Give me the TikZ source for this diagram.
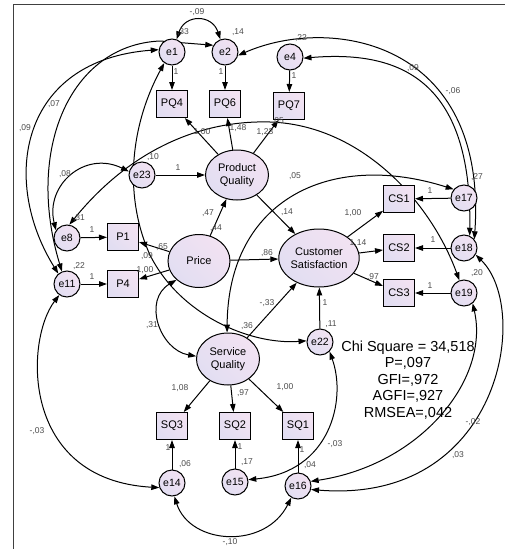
\documentclass[tikz,border=0pt]{standalone}
\usepackage{fontspec}
\setmainfont{Liberation Sans}
\usetikzlibrary{arrows.meta,shapes.geometric}
\definecolor{lavA}{RGB}{226,222,242}
\definecolor{lavB}{RGB}{242,226,242}
\definecolor{lbl}{RGB}{75,75,75}
\pgfdeclarelayer{bg}
\pgfsetlayers{bg,main}

\begin{document}
\begin{tikzpicture}[x=1pt,y=-1pt,
  every node/.style={inner sep=0pt},
  shade lav/.style={shade,shading=axis,left color=lavA,right color=lavB,shading angle=135},
  err/.style={circle,draw,line width=1pt,shade lav,minimum size=26pt,
    font=\fontsize{10.5}{12}\selectfont},
  obs/.style={rectangle,draw,line width=1pt,shade lav,minimum width=31pt,
    minimum height=27pt,font=\fontsize{11}{13}\selectfont},
  lat/.style={ellipse,draw,line width=1pt,shade lav,align=center,
    font=\fontsize{11}{12.5}\selectfont},
  tip/.tip={Triangle[length=8pt,width=5.5pt]},
  reg/.style={line width=1pt,-tip},
  cov/.style={line width=1pt,tip-tip},
  est/.style={font=\fontsize{8.5}{10}\selectfont,text=lbl},
]
\useasboundingbox (0,0) rectangle (505,549);
\draw[line width=1.2pt,black!75] (13.5,549) -- (13.5,4.5) -- (505,4.5);

% latent variables
\node[lat,minimum width=63pt,minimum height=50pt] (PQ) at (237,175) {Product\\Quality};
\node[lat,minimum width=62pt,minimum height=53pt] (Price) at (199,261) {Price};
\node[lat,minimum width=61pt,minimum height=58pt] (CS) at (319,258) {Customer\\Satisfaction};
\node[lat,minimum width=63pt,minimum height=52pt] (SQ) at (228,359) {Service\\Quality};

% observed indicators
\node[obs] (PQ4) at (172,104) {PQ4};
\node[obs] (PQ6) at (225,104) {PQ6};
\node[obs] (PQ7) at (289,106) {PQ7};
\node[obs] (P1) at (123,237) {P1};
\node[obs] (P4) at (123,284) {P4};
\node[obs] (CS1) at (399,199) {CS1};
\node[obs] (CS2) at (399,248) {CS2};
\node[obs] (CS3) at (399,293) {CS3};
\node[obs] (SQ3) at (172,426) {SQ3};
\node[obs] (SQ2) at (235,426) {SQ2};
\node[obs] (SQ1) at (298,426) {SQ1};

% error terms
\node[err] (e1) at (172,52) {e1};
\node[err] (e2) at (225,52) {e2};
\node[err] (e4) at (290,57) {e4};
\node[err] (e23) at (142,175) {e23};
\node[err] (e8) at (67,238) {e8};
\node[err] (e11) at (67,284) {e11};
\node[err] (e17) at (464,198) {e17};
\node[err] (e18) at (464,248) {e18};
\node[err] (e19) at (464,293) {e19};
\node[err] (e22) at (320,342) {e22};
\node[err] (e14) at (172,483) {e14};
\node[err] (e15) at (235,482) {e15};
\node[err] (e16) at (298,486) {e16};

% fit statistics
\node[font=\fontsize{14.5}{16.5}\selectfont,align=center] (fit) at (408,380)
  {Chi Square = 34,518\\P=,097\\GFI=,972\\AGFI=,927\\RMSEA=,042};

\begin{pgfonlayer}{bg}
% regression paths
\draw[reg] (e1) -- (PQ4);
\draw[reg] (e2) -- (PQ6);
\draw[reg] (e4) -- (PQ7);
\draw[reg] (PQ) -- (PQ4);
\draw[reg] (PQ) -- (PQ6);
\draw[reg] (PQ) -- (PQ7);
\draw[reg] (e23) -- (PQ);
\draw[reg] (Price) -- (PQ);
\draw[reg] (PQ) -- (CS);
\draw[reg] (Price) -- (CS);
\draw[reg] (SQ) -- (CS);
\draw[reg] (e22) -- (CS);
\draw[reg] (CS) -- (CS1);
\draw[reg] (CS) -- (CS2);
\draw[reg] (CS) -- (CS3);
\draw[reg] (e17) -- (CS1);
\draw[reg] (e18) -- (CS2);
\draw[reg] (e19) -- (CS3);
\draw[reg] (e8) -- (P1);
\draw[reg] (e11) -- (P4);
\draw[reg] (Price) -- (P1);
\draw[reg] (Price) -- (P4);
\draw[reg] (SQ) -- (SQ3);
\draw[reg] (SQ) -- (SQ2);
\draw[reg] (SQ) -- (SQ1);
\draw[reg] (e14) -- (SQ3);
\draw[reg] (e15) -- (SQ2);
\draw[reg] (e16) -- (SQ1);

% covariances
\draw[cov] (e1.70) .. controls (185,14) and (212,14) .. (e2.110);
\draw[cov] (e11.130) .. controls (0,180) and (20,60) .. (e1.170);
\draw[cov] (e11.112) .. controls (25,150) and (70,45) .. (160,41) -- (e2.150);
\draw[cov] (e23.165) .. controls (85,150) and (45,185) .. (e8.145);
\draw[cov] (e8.80) .. controls (130,150) and (200,120) .. (270,122)
  .. controls (360,125) and (430,200) .. (e19.110);
\draw[cov] (e1.235) .. controls (128,130) and (125,200) .. (150,255)
  .. controls (180,315) and (250,345) .. (e22.175);
\draw[cov] (Price.220) .. controls (142,300) and (160,350) .. (SQ.175);
\draw[cov] (SQ.92) .. controls (228,200) and (330,150) .. (e17.140);
\draw[cov] (e2.-15) .. controls (330,15) and (488,40) .. (e18.40);
\draw[cov] (e4.-5) .. controls (400,50) and (472,80) .. (e18.65);
\draw[cov] (e11.235) .. controls (25,340) and (20,480) .. (e14.200);
\draw[cov] (e14.-80) .. controls (190,545) and (265,550) .. (e16.-120);
\draw[cov] (e15.10) .. controls (330,472) and (347,400) .. (e22.-45);
\draw[cov] (e16.20) .. controls (420,465) and (490,380) .. (e19.-50);
\draw[cov] (e16.-15) .. controls (500,505) and (532,310) .. (e18.-30);
\end{pgfonlayer}

% estimates
\node[est] (v1) at (183,32) {,33};
\node[est] (v2) at (238,32) {,14};
\node[est] (v4) at (301,38) {,22};
\node[est] (w1) at (176,72) {1};
\node[est] (w2) at (221,72) {1};
\node[est] (w4) at (294,76) {1};
\node[est] (c12) at (197,12) {-,09};
\node[est] (c111) at (54,104) {,07};
\node[est] (c112) at (25,128) {,09};
\node[est] (v23) at (153,157) {,10};
\node[est] (w23) at (178,168) {1};
\node[est] (c238) at (65,174) {,08};
\node[est] (v8) at (79,218) {,31};
\node[est] (w8) at (92,230) {1};
\node[est] (v11) at (79,266) {,22};
\node[est] (w11) at (92,277) {1};
\node[est] (bP1) at (162,247) {,65};
\node[est] (c122) at (147,256) {,09};
\node[est] (bP4) at (145,270) {1,00};
\node[est] (bPQ) at (208,213) {,47};
\node[est] (vPr) at (216,228) {,44};
\node[est] (c819) at (278,121) {,05};
\node[est] (b4) at (202,132) {1,00};
\node[est] (b6) at (238,128) {1,48};
\node[est] (b7) at (265,132) {1,23};
\node[est] (c17) at (295,176) {,05};
\node[est] (bQC) at (287,212) {,14};
\node[est] (bPC) at (267,253) {,86};
\node[est] (bSC) at (267,303) {-,33};
\node[est] (vSQ) at (247,326) {,36};
\node[est] (w22) at (325,303) {1};
\node[est] (v22) at (331,324) {,11};
\node[est] (bC1) at (353,213) {1,00};
\node[est] (bC2) at (358,243) {1,14};
\node[est] (bC3) at (373,277) {,97};
\node[est] (w17) at (430,191) {1};
\node[est] (w18) at (433,240) {1};
\node[est] (w19) at (430,286) {1};
\node[est] (v17) at (477,177) {,27};
\node[est] (v19) at (477,273) {,20};
\node[est] (c218) at (413,68) {,09};
\node[est] (c418) at (453,91) {-,06};
\node[est] (cPS) at (152,325) {,31};
\node[est] (bS3) at (180,388) {1,08};
\node[est] (bS2) at (243,393) {,97};
\node[est] (bS1) at (285,387) {1,00};
\node[est] (w14) at (168,448) {1};
\node[est] (w15) at (240,447) {1};
\node[est] (w16) at (302,450) {1};
\node[est] (v14) at (185,464) {,06};
\node[est] (v15) at (247,462) {,17};
\node[est] (v16) at (310,465) {,04};
\node[est] (c1114) at (37,431) {-,03};
\node[est] (c1416) at (230,542) {-,10};
\node[est] (c1522) at (335,444) {-,03};
\node[est] (c1619) at (473,422) {-,02};
\node[est] (c1618) at (458,455) {,03};
\end{tikzpicture}
\end{document}
